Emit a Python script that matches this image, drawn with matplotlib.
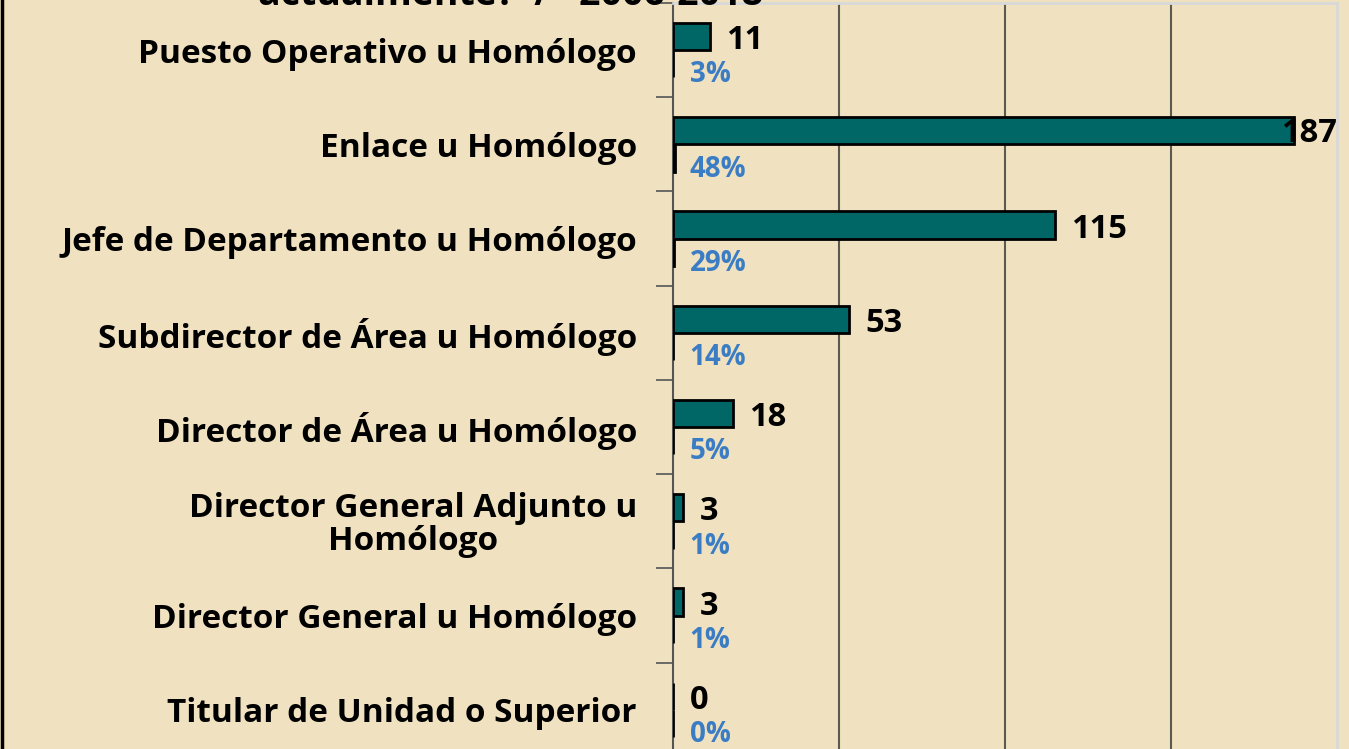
import matplotlib
matplotlib.use("Agg")
import matplotlib.pyplot as plt
from matplotlib.lines import Line2D

categories = [
    "Puesto Operativo u Homólogo",
    "Enlace u Homólogo",
    "Jefe de Departamento u Homólogo",
    "Subdirector de Área u Homólogo",
    "Director de Área u Homólogo",
    "Director General Adjunto u\nHomólogo",
    "Director General u Homólogo",
    "Titular de Unidad o Superior",
]
counts = [11, 187, 115, 53, 18, 3, 3, 0]
percents = [3, 48, 29, 14, 5, 1, 1, 0]
title_tail = "actualmente?  /   2006-2018"

BG = "#F0E2C0"
TEAL = "#006666"
BLUE = "#3B7DC4"
FONT = "Open Sans"

W, H = 1349, 749
fig = plt.figure(figsize=(W / 100, H / 100), dpi=100, facecolor=BG)

ax_left, ax_right, ax_top, ax_bot = 673, 1337, 3, 757
ax = fig.add_axes([ax_left / W, 1 - ax_bot / H, (ax_right - ax_left) / W, (ax_bot - ax_top) / H])
ax.set_facecolor("none")

n = len(categories)
ys = list(range(n))
h = 0.29
xmax = 200
ax.set_xlim(0, xmax)
ax.set_ylim(n - 0.5, -0.5)

ax.barh([y - h / 2 for y in ys], counts, height=h, color=TEAL, edgecolor="black", linewidth=2, zorder=3)
ax.barh([y + h / 2 for y in ys], [p / 100 for p in percents], height=h, color=TEAL, edgecolor="black",
        linewidth=2, zorder=3)

# gridlines
ax.set_xticks([50, 100, 150])
ax.tick_params(axis="x", length=0, labelbottom=False)
ax.grid(axis="x", color="#5a5a50", linewidth=1.5, zorder=1)

# y axis
ax.set_yticks(ys)
ax.set_yticklabels(categories, fontsize=24, fontweight="bold", family=FONT, multialignment="center",
                   linespacing=1.0)
ax.tick_params(axis="y", which="major", length=0, pad=26)
ax.set_yticks([y + 0.5 for y in range(-1, n)], minor=True)
ax.tick_params(axis="y", which="minor", length=12, width=1.2, color="#555555")

for s in ["top", "right"]:
    ax.spines[s].set_color("#d8d8d8")
    ax.spines[s].set_linewidth(2)
ax.spines["left"].set_color("#555555")
ax.spines["left"].set_linewidth(1.5)
ax.spines["bottom"].set_visible(False)

# value labels
for y, c, p in zip(ys, counts, percents):
    if c > 0.9 * xmax:
        ax.annotate(str(c), xy=(xmax, y - h / 2), xytext=(0, -2), textcoords="offset points",
                    ha="right", va="center", fontsize=23.5, fontweight="bold", family=FONT, zorder=5)
    else:
        ax.annotate(str(c), xy=(c, y - h / 2), xytext=(12, -3), textcoords="offset points",
                    ha="left", va="center", fontsize=23.5, fontweight="bold", family=FONT, zorder=5)
    ax.annotate(f"{p}%", xy=(0, y + h / 2), xytext=(12, -8), textcoords="offset points",
                ha="left", va="center", fontsize=20, fontweight="bold", family=FONT, color=BLUE, zorder=5)

# cut-off title at the top (the reference shows only its lower edge)
fig.text(510 / W, 1 - 5 / H, title_tail, ha="center", va="baseline", fontsize=27,
         fontweight="bold", family=FONT)

# left border
fig.add_artist(Line2D([1.5 / W, 1.5 / W], [0, 1], color="black", linewidth=2.5, transform=fig.transFigure))

fig.savefig("out.png", dpi=100, facecolor=BG)
